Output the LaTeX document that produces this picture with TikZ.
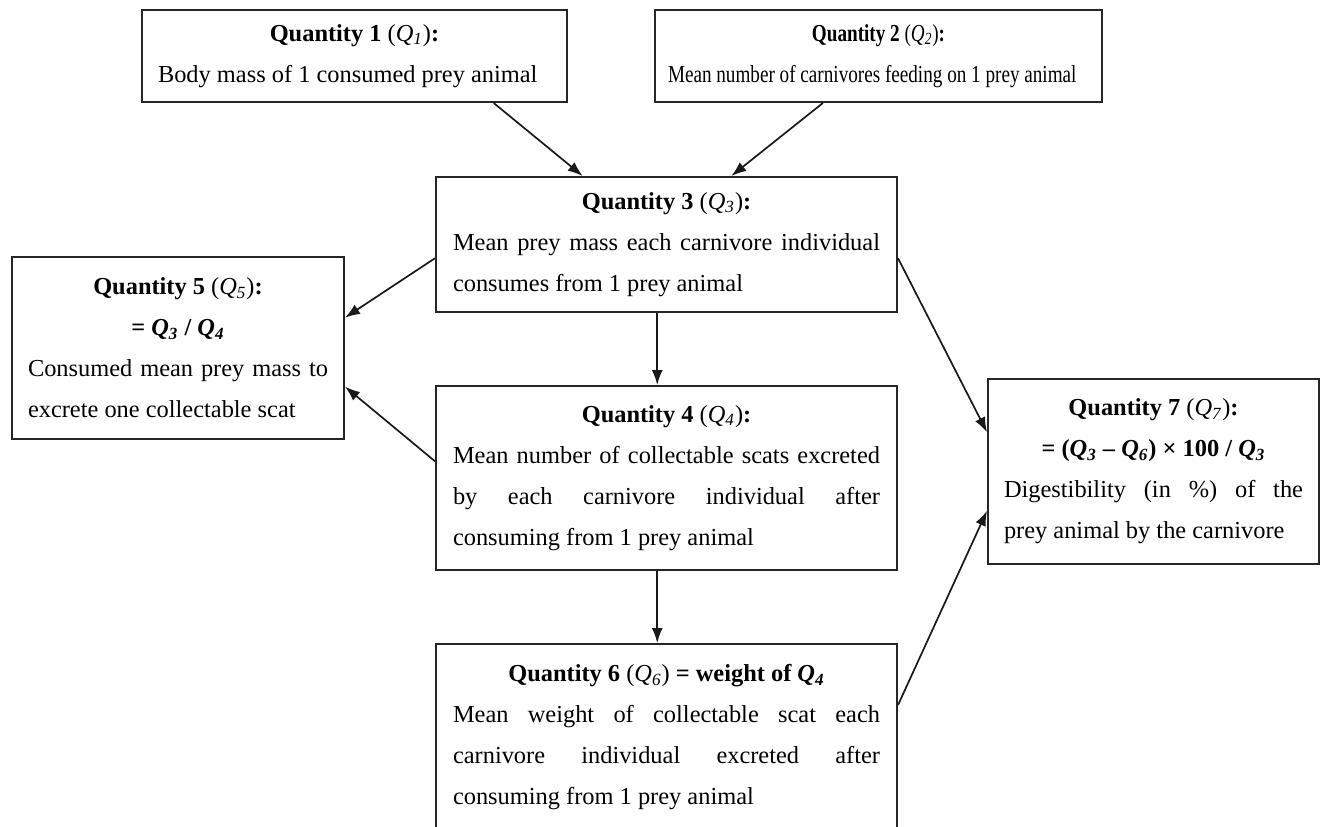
\documentclass[tikz,border=0pt]{standalone}
\usepackage{fontspec}
\setmainfont{Liberation Serif}
\usepackage{graphicx}
\usetikzlibrary{arrows.meta,calc}
\setlength{\parindent}{0pt}
\newcommand{\Qit}[1]{\textit{Q}\textsubscript{\textit{#1}}}
\newcommand{\ctitle}[1]{{\centering #1\par}}
\begin{document}
\begin{tikzpicture}[x=0.5pt,y=-0.5pt,
  qbox/.style={draw=black!85, line width=1pt, anchor=north west, inner ysep=0pt,
    font=\fontsize{12.2}{20.5}\selectfont, align=justify},
  arr/.style={-{Latex[length=7.5pt,width=5.5pt]}, line width=0.85pt, draw=black!90}]
\useasboundingbox (0,0) rectangle (1320,826);
\clip (0,0) rectangle (1320,826);

\node[qbox, inner xsep=8pt, minimum width=212.5pt, text width=196.5pt, minimum height=46pt] (b1) at (141,9)
  {\ctitle{\textbf{Quantity 1} (\Qit{1})\textbf{:}}Body mass of 1 consumed prey animal};

\node[qbox, inner xsep=6.5pt, minimum width=223.5pt, text width=210.5pt, minimum height=46pt] (b2) at (654,9)
  {\ctitle{\scalebox{0.785}[1]{\textbf{Quantity 2} (\Qit{2})\textbf{:}}}\scalebox{0.785}[1]{Mean number of carnivores feeding on 1 prey animal}};

\node[qbox, inner xsep=8.5pt, minimum width=230.5pt, text width=213.5pt, minimum height=67.5pt] (b3) at (435,176)
  {\ctitle{\textbf{Quantity 3} (\Qit{3})\textbf{:}}Mean prey mass each carnivore individual\linebreak consumes from 1 prey animal};

\node[qbox, inner xsep=8pt, minimum width=166pt, text width=150pt, minimum height=91pt] (b5) at (11,256)
  {\ctitle{\textbf{Quantity 5} (\Qit{5})\textbf{:}}\ctitle{\textbf{= \textit{Q}\textsubscript{\textit{3}} / \textit{Q}\textsubscript{\textit{4}}}}Consumed mean prey mass to\linebreak excrete one collectable scat};

\node[qbox, inner xsep=8.5pt, minimum width=230.5pt, text width=213.5pt, minimum height=92pt] (b4) at (435,385)
  {\ctitle{\textbf{Quantity 4} (\Qit{4})\textbf{:}}Mean number of collectable scats excreted\linebreak by each carnivore individual after\linebreak consuming from 1 prey animal};

\node[qbox, inner xsep=8pt, minimum width=165.5pt, text width=149.5pt, minimum height=92.5pt] (b7) at (987,378)
  {\ctitle{\textbf{Quantity 7} (\Qit{7})\textbf{:}}\ctitle{\textbf{= (\textit{Q}\textsubscript{\textit{3}} – \textit{Q}\textsubscript{\textit{6}}) × 100 / \textit{Q}\textsubscript{\textit{3}}}}Digestibility (in \%) of the\linebreak prey animal by the carnivore};

\node[qbox, inner xsep=8.5pt, minimum width=230.5pt, text width=213.5pt, minimum height=93pt] (b6) at (435,643)
  {\ctitle{\textbf{Quantity 6} (\Qit{6}) \textbf{= weight of \textit{Q}\textsubscript{\textit{4}}}}Mean weight of collectable scat each\linebreak carnivore individual excreted after\linebreak consuming from 1 prey animal};

\draw[arr] ($(b1.south west)!0.826!(b1.south east)$) -- ($(b3.north west)!0.319!(b3.north east)$);
\draw[arr] ($(b2.south west)!0.376!(b2.south east)$) -- ($(b3.north west)!0.64!(b3.north east)$);
\draw[arr] ($(b3.north west)!0.6!(b3.south west)$) -- ($(b5.north east)!0.335!(b5.south east)$);
\draw[arr] ($(b4.north west)!0.41!(b4.south west)$) -- ($(b5.north east)!0.71!(b5.south east)$);
\draw[arr] ($(b3.south west)!0.48!(b3.south east)$) -- ($(b4.north west)!0.48!(b4.north east)$);
\draw[arr] ($(b4.south west)!0.48!(b4.south east)$) -- ($(b6.north west)!0.48!(b6.north east)$);
\draw[arr] ($(b3.north east)!0.6!(b3.south east)$) -- ($(b7.north west)!0.29!(b7.south west)$);
\draw[arr] ($(b6.north east)!0.33!(b6.south east)$) -- ($(b7.north west)!0.71!(b7.south west)$);
\end{tikzpicture}
\end{document}
